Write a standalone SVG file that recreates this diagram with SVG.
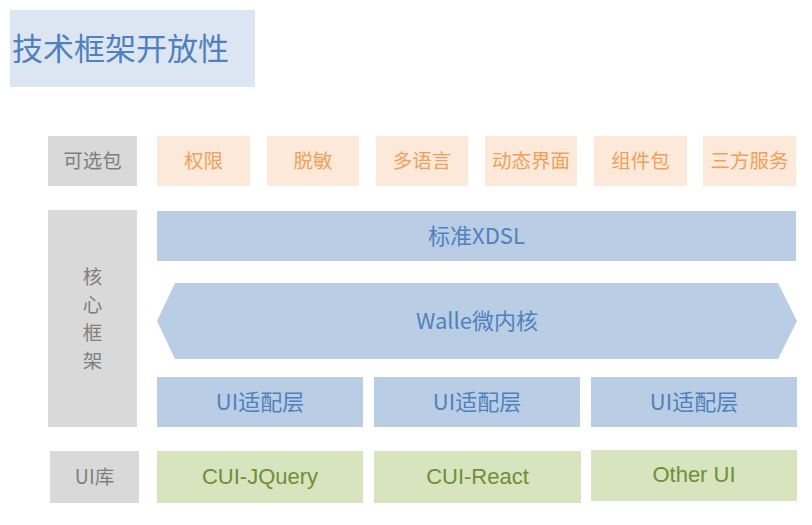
<svg xmlns="http://www.w3.org/2000/svg" width="812" height="525" viewBox="0 0 812 525">
<style>
text{font-family:"Noto Sans CJK SC","Liberation Sans",sans-serif;text-anchor:middle;dominant-baseline:central}
.gray{fill:#d9d9d9}
.gt{fill:#7f7f7f;font-size:19.5px}
.org{fill:#fde9d9}
.ot{fill:#f0a05a;font-size:19.5px}
.blue{fill:#b9cde5}
.bt{fill:#4f81bd;font-size:22px}
.grn{fill:#d7e4bd}
.gnt{fill:#6f8f3a;font-size:22px;font-family:"Liberation Sans","Noto Sans CJK SC",sans-serif}
</style>
<rect width="812" height="525" fill="#ffffff"/>
<g id="title">
<rect x="10" y="10" width="245" height="77" fill="#dce6f2"/>
<text x="12" y="46" style="text-anchor:start;font-size:31px;fill:#4f81bd">技术框架开放性</text>
</g>
<g id="optional-label"><rect class="gray" x="48" y="136" width="89" height="50"/><text class="gt" x="92.5" y="159.5">可选包</text></g>
<g id="opt1"><rect class="org" x="157" y="136" width="93" height="50"/><text class="ot" x="203.5" y="159.5">权限</text></g>
<g id="opt2"><rect class="org" x="267" y="136" width="92" height="50"/><text class="ot" x="313" y="159.5">脱敏</text></g>
<g id="opt3"><rect class="org" x="376" y="136" width="92" height="50"/><text class="ot" x="422" y="159.5">多语言</text></g>
<g id="opt4"><rect class="org" x="485" y="136" width="92" height="50"/><text class="ot" x="531" y="159.5">动态界面</text></g>
<g id="opt5"><rect class="org" x="594" y="136" width="93" height="50"/><text class="ot" x="640.5" y="159.5">组件包</text></g>
<g id="opt6"><rect class="org" x="703" y="136" width="93" height="50"/><text class="ot" x="749.5" y="159.5">三方服务</text></g>
<g id="core-label"><rect class="gray" x="48" y="210" width="89" height="217"/>
<text class="gt" x="92.5" y="275.5">核</text><text class="gt" x="92.5" y="303.5">心</text><text class="gt" x="92.5" y="331.5">框</text><text class="gt" x="92.5" y="359.5">架</text></g>
<g id="xdsl"><rect class="blue" x="157" y="211" width="639" height="50"/><text class="bt" x="476.5" y="234">标准XDSL</text></g>
<g id="walle"><polygon class="blue" points="175,283 778,283 797,321 778,359 175,359 157,321"/><text class="bt" x="477" y="319">Walle微内核</text></g>
<g id="adapter1"><rect class="blue" x="157" y="377" width="206" height="50"/><text class="bt" x="260" y="400">UI适配层</text></g>
<g id="adapter2"><rect class="blue" x="374" y="377" width="206" height="50"/><text class="bt" x="477" y="400">UI适配层</text></g>
<g id="adapter3"><rect class="blue" x="591" y="377" width="206" height="50"/><text class="bt" x="694" y="400">UI适配层</text></g>
<g id="ui-label"><rect class="gray" x="50" y="451" width="89" height="52"/><text class="gt" x="94.5" y="475.5">UI库</text></g>
<g id="cui-jquery"><rect class="grn" x="157" y="451" width="206" height="52"/><text class="gnt" x="260" y="476">CUI-JQuery</text></g>
<g id="cui-react"><rect class="grn" x="374" y="451" width="207" height="52"/><text class="gnt" x="477.5" y="476">CUI-React</text></g>
<g id="other-ui"><rect class="grn" x="591" y="450" width="206" height="51"/><text class="gnt" x="694" y="474.5">Other UI</text></g>
<g id="connectors"/>
</svg>
